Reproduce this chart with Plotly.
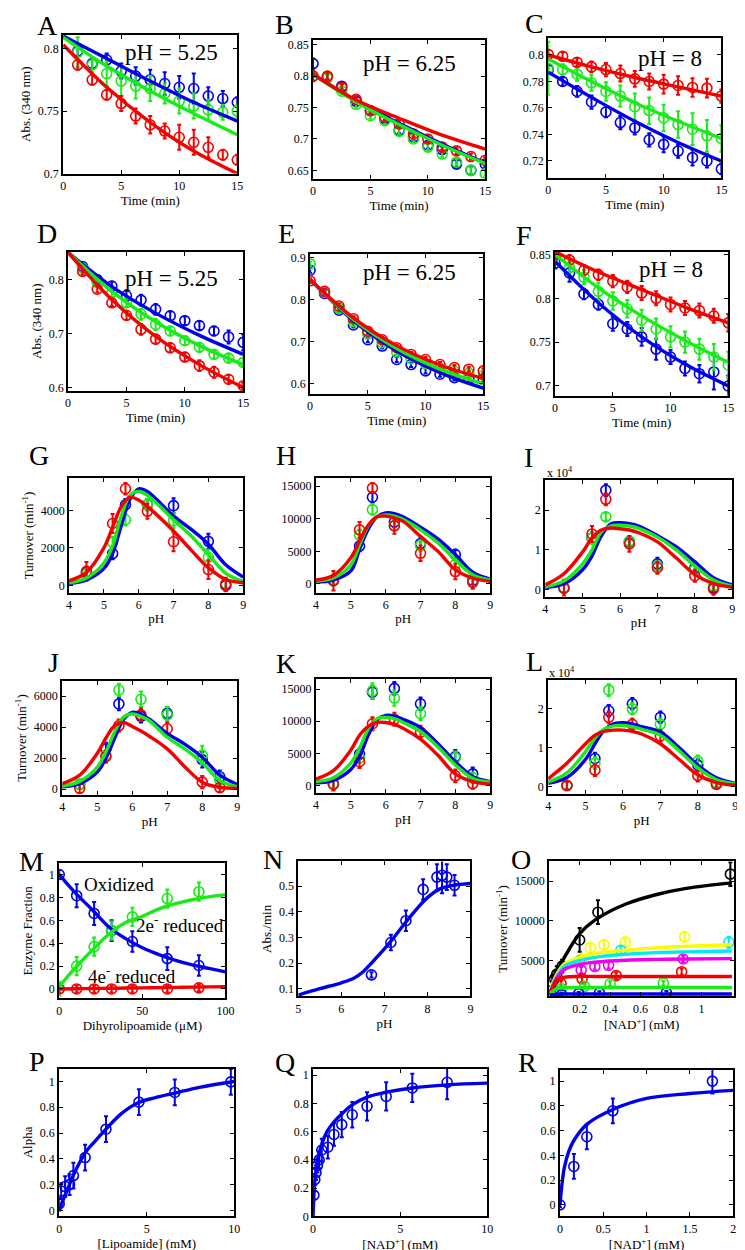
import plotly.graph_objects as go

W, H = 745, 1250
FONT = "Liberation Serif, Times New Roman, serif"
BLUE = "rgb(0,0,235)"
GREEN = "rgb(25,235,25)"
RED = "rgb(245,0,0)"

# ---------------- time-course panels (A-F) ----------------
T_ALL = [0, 1.25, 2.5, 3.75, 5, 6.25, 7.5, 8.75, 10, 11.25, 12.5, 13.75, 15]
T_LATE = [1.25, 2.5, 3.75, 5, 6.25, 7.5, 8.75, 10, 11.25, 12.5, 13.75, 15]
T_FIT = [0, 3.75, 7.5, 11.25, 15]

A_blue = [0.798, 0.788, 0.791, 0.782, 0.778, 0.775, 0.772, 0.769, 0.768, 0.762, 0.760, 0.757]
A_blue_err = [0.004, 0.004, 0.005, 0.006, 0.007, 0.008, 0.009, 0.009, 0.012, 0.007, 0.006, 0.004]
A_green = [0.797, 0.787, 0.780, 0.774, 0.770, 0.768, 0.764, 0.758, 0.754, 0.751, 0.749, 0.750]
A_green_err = [0.012, 0.006, 0.010, 0.012, 0.010, 0.010, 0.008, 0.010, 0.010, 0.008, 0.006, 0.005]
A_red = [0.787, 0.775, 0.763, 0.756, 0.746, 0.739, 0.734, 0.729, 0.725, 0.721, 0.715, 0.711]
A_red_err = [0.004, 0.004, 0.004, 0.006, 0.006, 0.007, 0.006, 0.010, 0.010, 0.008, 0.004, 0.004]
A_blue_fit = [0.810, 0.792, 0.774, 0.757, 0.742]
A_green_fit = [0.809, 0.786, 0.766, 0.748, 0.731]
A_red_fit = [0.803, 0.769, 0.741, 0.718, 0.700]

B_blue = [0.820, 0.799, 0.784, 0.760, 0.745, 0.732, 0.714, 0.703, 0.690, 0.683, 0.660, 0.650, 0.660]
B_blue_err = [0.008, 0.004, 0.004, 0.006, 0.005, 0.005, 0.005, 0.005, 0.005, 0.005, 0.006, 0.006, 0.005]
B_green = [0.800, 0.797, 0.776, 0.755, 0.737, 0.729, 0.712, 0.700, 0.687, 0.676, 0.663, 0.650, 0.645]
B_green_err = [0.006, 0.005, 0.005, 0.005, 0.005, 0.005, 0.005, 0.005, 0.005, 0.005, 0.005, 0.005, 0.005]
B_red = [0.800, 0.800, 0.782, 0.763, 0.745, 0.735, 0.724, 0.708, 0.700, 0.687, 0.681, 0.672, 0.666]
B_red_err = [0.008, 0.005, 0.005, 0.005, 0.005, 0.005, 0.005, 0.005, 0.005, 0.005, 0.005, 0.005, 0.005]
B_blue_fit = [0.803, 0.760, 0.725, 0.692, 0.662]
B_green_fit = [0.803, 0.759, 0.723, 0.690, 0.661]
B_red_fit = [0.803, 0.762, 0.733, 0.706, 0.684]

C_red = [0.8005, 0.799, 0.7945, 0.791, 0.789, 0.786, 0.782, 0.780, 0.778, 0.777, 0.7755, 0.775, 0.769]
C_red_err = [0.003, 0.003, 0.003, 0.004, 0.005, 0.006, 0.006, 0.006, 0.007, 0.007, 0.007, 0.007, 0.005]
C_green = [0.790, 0.789, 0.7855, 0.779, 0.7725, 0.769, 0.761, 0.758, 0.7525, 0.7475, 0.744, 0.739, 0.737]
C_green_err = [0.02, 0.004, 0.005, 0.006, 0.007, 0.008, 0.010, 0.010, 0.010, 0.010, 0.012, 0.012, 0.010]
C_blue = [0.789, 0.780, 0.7725, 0.7645, 0.757, 0.749, 0.745, 0.736, 0.7325, 0.7275, 0.7225, 0.720, 0.714]
C_blue_err = [0.003, 0.003, 0.004, 0.005, 0.004, 0.005, 0.005, 0.005, 0.006, 0.005, 0.006, 0.005, 0.004]
C_red_fit = [0.800, 0.791, 0.783, 0.776, 0.769]
C_green_fit = [0.797, 0.780, 0.764, 0.750, 0.737]
C_blue_fit = [0.787, 0.768, 0.750, 0.734, 0.720]

D_red = [0.815, 0.782, 0.757, 0.734, 0.708, 0.690, 0.674, 0.657, 0.641, 0.629, 0.616, 0.604]
D_red_err = [0.006, 0.006, 0.006, 0.008, 0.010, 0.008, 0.008, 0.008, 0.010, 0.010, 0.008, 0.006]
D_green = [0.821, 0.794, 0.776, 0.757, 0.736, 0.717, 0.705, 0.687, 0.675, 0.662, 0.655, 0.647]
D_green_err = [0.008, 0.008, 0.008, 0.008, 0.010, 0.010, 0.008, 0.008, 0.008, 0.008, 0.008, 0.008]
D_blue = [0.824, 0.800, 0.788, 0.770, 0.762, 0.745, 0.733, 0.724, 0.715, 0.705, 0.694, 0.684]
D_blue_err = [0.006, 0.006, 0.008, 0.010, 0.010, 0.010, 0.008, 0.008, 0.008, 0.008, 0.012, 0.015]
D_red_fit = [0.850, 0.763, 0.695, 0.643, 0.601]
D_green_fit = [0.850, 0.778, 0.722, 0.678, 0.643]
D_blue_fit = [0.850, 0.787, 0.738, 0.697, 0.662]

E_blue = [0.870, 0.815, 0.775, 0.740, 0.705, 0.690, 0.658, 0.646, 0.631, 0.623, 0.615, 0.612, 0.611]
E_green = [0.885, 0.818, 0.780, 0.748, 0.718, 0.698, 0.676, 0.660, 0.648, 0.638, 0.630, 0.625, 0.620]
E_red = [0.845, 0.820, 0.785, 0.755, 0.725, 0.705, 0.686, 0.670, 0.658, 0.646, 0.639, 0.635, 0.631]
E_err = [0.006, 0.006, 0.006, 0.006, 0.006, 0.006, 0.006, 0.006, 0.006, 0.006, 0.006, 0.006, 0.006]
E_red_fit = [0.848, 0.757, 0.691, 0.645, 0.613]
E_green_fit = [0.848, 0.753, 0.684, 0.635, 0.600]
E_blue_fit = [0.848, 0.750, 0.678, 0.627, 0.590]

F_red = [0.850, 0.8435, 0.832, 0.827, 0.8195, 0.813, 0.806, 0.800, 0.793, 0.789, 0.786, 0.780, 0.772]
F_red_err = [0.004, 0.006, 0.006, 0.006, 0.007, 0.007, 0.008, 0.008, 0.008, 0.008, 0.008, 0.008, 0.010]
F_green = [0.848, 0.835, 0.824, 0.808, 0.797, 0.788, 0.775, 0.765, 0.756, 0.750, 0.742, 0.733, 0.724]
F_green_err = [0.006, 0.008, 0.008, 0.010, 0.010, 0.010, 0.012, 0.012, 0.012, 0.012, 0.012, 0.015, 0.015]
F_blue = [0.840, 0.829, 0.805, 0.793, 0.771, 0.765, 0.756, 0.742, 0.733, 0.720, 0.714, 0.716, 0.700]
F_blue_err = [0.006, 0.010, 0.006, 0.006, 0.008, 0.008, 0.010, 0.012, 0.008, 0.008, 0.010, 0.020, 0.012]
F_red_fit = [0.853, 0.830, 0.810, 0.790, 0.772]
F_green_fit = [0.850, 0.812, 0.780, 0.752, 0.727]
F_blue_fit = [0.842, 0.795, 0.756, 0.725, 0.700]

# ---------------- pH profiles (G-L) ----------------
PH_PTS = [4.5, 5.25, 5.62, 6.25, 7, 8, 8.5]
PH_FIT = [4, 4.5, 5, 5.25, 5.5, 5.75, 6, 6.25, 6.5, 7, 7.5, 8, 8.5, 9]

G_red = [750, 3300, 5150, 3950, 2330, 850, 60]
G_red_err = [500, 500, 300, 400, 500, 500, 350]
G_blue = [700, 1700, 4300, 4300, 4250, 2350, 0]
G_blue_err = [300, 300, 300, 300, 400, 400, 300]
G_green = [600, 2300, 3500, 4300, 3450, 1500, 100]
G_green_err = [300, 300, 300, 300, 400, 400, 200]
G_blue_fit = [100, 300, 900, 1700, 3200, 4600, 5150, 5000, 4600, 3700, 3000, 2200, 1100, 450]
G_green_fit = [150, 400, 1200, 2100, 3700, 4800, 5000, 4800, 4400, 3500, 2650, 1650, 650, 220]
G_red_fit = [250, 700, 2000, 3100, 4200, 4700, 4550, 4200, 3800, 2900, 1900, 950, 320, 150]

H_red = [500, 8300, 14700, 8900, 4700, 1900, 250]
H_red_err = [1500, 1200, 800, 1200, 1200, 1200, 1000]
H_blue = [600, 5800, 13300, 9500, 6200, 4500, 500]
H_blue_err = [800, 800, 800, 800, 800, 800, 600]
H_green = [500, 7500, 11400, 9000, 5900, 3000, 300]
H_green_err = [800, 800, 800, 800, 800, 800, 600]
H_blue_fit = [300, 600, 2000, 5300, 8400, 10300, 10900, 10800, 10300, 8700, 6900, 4500, 1800, 750]
H_green_fit = [400, 900, 2900, 6000, 8900, 10300, 10600, 10400, 9900, 8300, 6300, 3700, 1400, 600]
H_red_fit = [600, 1300, 4000, 6600, 9000, 10300, 10400, 10100, 9600, 7300, 5000, 2200, 900, 400]

I_red = [500, 14000, 22700, 11500, 5500, 3500, 200]
I_red_err = [2000, 2000, 1500, 2000, 1500, 1500, 1500]
I_blue = [300, 13000, 25000, 12000, 6500, 5500, 500]
I_blue_err = [1000, 1500, 1500, 1000, 1500, 1500, 1000]
I_green = [400, 13000, 18300, 12200, 6000, 5000, 1000]
I_green_err = [1000, 1500, 1000, 1000, 1000, 1000, 1000]
I_blue_fit = [500, 1500, 5000, 8500, 13500, 16500, 16800, 16600, 16000, 13600, 10800, 7000, 3000, 1200]
I_green_fit = [700, 2200, 6500, 10000, 14500, 16000, 16200, 16000, 15400, 13200, 10000, 6000, 2400, 900]
I_red_fit = [1200, 4000, 9500, 13000, 15000, 15500, 15300, 15000, 14300, 12000, 8000, 3800, 1500, 600]

J_green = [300, 2200, 6400, 5800, 4800, 2200, 600]
J_green_err = [300, 300, 400, 500, 500, 600, 400]
J_blue = [300, 2600, 5500, 4700, 4900, 1900, 800]
J_blue_err = [300, 400, 400, 400, 400, 500, 400]
J_red = [50, 2100, 4100, 4800, 3900, 450, 100]
J_red_err = [300, 400, 400, 400, 400, 400, 300]
J_blue_fit = [150, 350, 1100, 2000, 3300, 4500, 4950, 4850, 4500, 3600, 2900, 2050, 900, 300]
J_green_fit = [200, 500, 1400, 2400, 3700, 4650, 4850, 4700, 4400, 3350, 2600, 1700, 550, 150]
J_red_fit = [350, 900, 2300, 3300, 4100, 4300, 4050, 3750, 3400, 2600, 1450, 450, 120, 50]

K_green = [300, 4300, 14700, 13600, 11200, 4300, 1200]
K_green_err = [800, 800, 1200, 1200, 1000, 1000, 800]
K_blue = [200, 4900, 14500, 15100, 12700, 4500, 1800]
K_blue_err = [800, 800, 1000, 1000, 1000, 1000, 1000]
K_red = [200, 3700, 9600, 10300, 8300, 1500, 300]
K_red_err = [1000, 1000, 1000, 1000, 1000, 1000, 800]
K_blue_fit = [400, 800, 2500, 4500, 7800, 10200, 10900, 10800, 10300, 9000, 6500, 3700, 1400, 600]
K_green_fit = [600, 1200, 3500, 5800, 8800, 10400, 10600, 10400, 9800, 8400, 6000, 3200, 1100, 500]
K_red_fit = [1000, 2300, 5500, 7800, 9200, 9800, 9800, 9500, 8900, 7200, 4700, 1800, 600, 200]

L_green = [300, 6000, 24800, 20000, 16000, 6500, 1000]
L_green_err = [1000, 1500, 1500, 1500, 1500, 1500, 1000]
L_blue = [300, 7200, 19500, 21300, 17800, 5500, 800]
L_blue_err = [1000, 1500, 1500, 1500, 1500, 1500, 1000]
L_red = [200, 4200, 17800, 16000, 13000, 2800, 500]
L_red_err = [1000, 1500, 1500, 1500, 1500, 1500, 1000]
L_blue_fit = [800, 2300, 7000, 11000, 14500, 16100, 16400, 16100, 15400, 14000, 10000, 5500, 2200, 800]
L_green_fit = [1200, 3500, 9000, 12500, 14800, 15600, 15700, 15400, 14700, 13200, 9200, 4800, 1800, 700]
L_red_fit = [2000, 6000, 11000, 13200, 14200, 14500, 14500, 14200, 13500, 11000, 7000, 3000, 1000, 300]

# ---------------- M: enzyme fraction ----------------
M_x = [0, 10.5, 21, 31.5, 44, 65, 84]
M_ox = [1.0, 0.815, 0.66, 0.51, 0.415, 0.265, 0.205]
M_ox_err = [0.04, 0.10, 0.10, 0.09, 0.09, 0.10, 0.09]
M_2e = [0.0, 0.20, 0.37, 0.51, 0.63, 0.79, 0.85]
M_2e_err = [0.06, 0.08, 0.08, 0.08, 0.08, 0.08, 0.08]
M_4e = [0.0, 0.0, 0.0, 0.0, 0.0, 0.0, 0.01]
M_4e_err = [0.03, 0.03, 0.03, 0.03, 0.03, 0.03, 0.03]
M_fit_x = [0, 10, 20, 30, 40, 50, 60, 70, 80, 90, 100]
M_ox_fit = [1.0, 0.835, 0.69, 0.54, 0.44, 0.36, 0.30, 0.25, 0.21, 0.18, 0.15]
M_2e_fit = [0.02, 0.19, 0.34, 0.48, 0.58, 0.635, 0.70, 0.745, 0.78, 0.805, 0.825]
M_4e_fit = [0.0, 0.002, 0.004, 0.006, 0.008, 0.01, 0.012, 0.014, 0.016, 0.018, 0.02]

# ---------------- N: activity vs pH ----------------
N_ph = [6.7, 7.15, 7.5, 7.9, 8.22, 8.34, 8.45, 8.63]
N_rate = [0.154, 0.28, 0.365, 0.487, 0.535, 0.542, 0.535, 0.503]
N_err = [0.01, 0.03, 0.04, 0.04, 0.05, 0.07, 0.05, 0.04]
N_fit_ph = [5, 5.5, 6, 6.3, 6.5, 6.7, 7, 7.2, 7.5, 7.8, 8, 8.3, 8.6, 9]
N_fit = [0.075, 0.10, 0.123, 0.142, 0.165, 0.20, 0.255, 0.295, 0.36, 0.42, 0.455, 0.49, 0.503, 0.51]

# ---------------- O: turnover vs NAD+ ----------------
O_black_x = [0.02, 0.035, 0.05, 0.085, 0.2, 0.32, 1.19]
O_black = [2300, 2700, 3300, 4300, 7600, 11100, 15900]
O_black_err = [800, 1000, 1000, 800, 1500, 1500, 1500]
O_yellow_x = [0.21, 0.27, 0.36, 0.5, 0.89]
O_yellow = [5200, 6600, 7000, 7300, 8000]
O_yellow_err = [600, 600, 600, 600, 600]
O_cyan_x = [0.2, 0.47, 1.18]
O_cyan = [5000, 6300, 7300]
O_cyan_err = [500, 500, 700]
O_magenta_x = [0.21, 0.3, 0.39, 0.88]
O_magenta = [3800, 4250, 4400, 5200]
O_magenta_err = [400, 400, 400, 400]
O_red_x = [0.078, 0.216, 0.44, 0.87]
O_red = [2100, 2700, 3100, 3600]
O_red_err = [400, 400, 400, 400]
O_green_x = [0.08, 0.233, 0.4, 0.75]
O_green = [1460, 1750, 2080, 2170]
O_green_err = [300, 300, 300, 300]
O_blue_x = [0.017, 0.082, 0.194, 0.33, 0.77]
O_blue = [620, 700, 830, 920, 960]
O_blue_err = [200, 200, 200, 200, 200]
O_fit_x = [0.005, 0.02, 0.05, 0.1, 0.2, 0.3, 0.5, 0.7, 0.9, 1.2]
O_black_fit = [600, 1800, 3500, 5400, 8400, 10100, 12100, 13300, 14100, 14800]
O_yellow_fit = [1200, 2000, 3300, 4600, 5400, 5900, 6300, 6600, 6800, 7000]
O_cyan_fit = [1100, 1800, 3000, 4300, 5000, 5400, 5800, 6000, 6100, 6200]
O_magenta_fit = [1000, 1600, 2800, 3900, 4500, 4800, 5050, 5150, 5200, 5250]
O_red_fit = [900, 1500, 2600, 2900, 3000, 3000, 3000, 3000, 3000, 3000]
O_green_fit = [800, 1100, 1450, 1580, 1600, 1600, 1600, 1600, 1600, 1600]
O_blue_fit = [650, 700, 760, 780, 790, 790, 790, 790, 790, 790]

# ---------------- P, Q, R: alpha ----------------
P_x = [0.0, 0.11, 0.34, 0.59, 0.81, 1.48, 2.67, 4.55, 6.6, 9.8]
P_y = [0.05, 0.15, 0.185, 0.20, 0.27, 0.41, 0.63, 0.84, 0.915, 0.997]
P_err = [0.05, 0.06, 0.08, 0.08, 0.10, 0.10, 0.10, 0.10, 0.10, 0.10]
P_fit_x = [0, 0.25, 0.5, 0.8, 1.5, 2, 2.67, 3.5, 4.5, 5.5, 6.6, 8, 10]
P_fit = [0, 0.09, 0.17, 0.27, 0.45, 0.53, 0.63, 0.745, 0.835, 0.875, 0.91, 0.955, 1.0]

Q_x = [0.05, 0.1, 0.17, 0.25, 0.35, 0.5, 0.85, 1.2, 1.65, 2.25, 3.1, 4.2, 5.7, 7.7]
Q_y = [0.15, 0.26, 0.31, 0.36, 0.40, 0.47, 0.49, 0.58, 0.65, 0.72, 0.78, 0.85, 0.91, 0.95]
Q_err = [0.03, 0.04, 0.05, 0.05, 0.06, 0.08, 0.08, 0.08, 0.09, 0.09, 0.10, 0.10, 0.10, 0.12]
Q_fit_x = [0, 0.03, 0.1, 0.2, 0.47, 0.8, 1.18, 1.6, 2.25, 3.1, 4.2, 5.7, 7.7, 10]
Q_fit = [0, 0.10, 0.25, 0.35, 0.50, 0.60, 0.667, 0.72, 0.79, 0.845, 0.88, 0.91, 0.932, 0.944]

R_x = [0, 0.16, 0.31, 0.61, 1.76]
R_y = [0, 0.31, 0.55, 0.76, 1.0]
R_err = [0.02, 0.10, 0.10, 0.10, 0.10]
R_fit_x = [0, 0.02, 0.05, 0.1, 0.16, 0.31, 0.61, 1, 1.5, 2]
R_fit = [0, 0.15, 0.30, 0.43, 0.52, 0.65, 0.77, 0.86, 0.90, 0.925]

# ---------------- tick labels ----------------
T_TICKS = [0, 5, 10, 15]
PH_TICKS = [4, 5, 6, 7, 8, 9]

fig = go.Figure()


def names(k):
    s = "" if k == 1 else str(k)
    return "x" + s, "y" + s, "xaxis" + s, "yaxis" + s


def errs(k, x, y, e, color):
    xs, ys, _, _ = names(k)
    fig.add_trace(go.Scatter(
        x=x, y=y, xaxis=xs, yaxis=ys, mode="markers",
        marker=dict(symbol="circle-open", size=10, color=color, line=dict(width=1.6, color=color)),
        error_y=dict(type="data", array=e, visible=True, color=color, thickness=2, width=2),
        showlegend=False, hoverinfo="skip"))


def fit(k, x, y, color, width=3.4):
    xs, ys, _, _ = names(k)
    fig.add_trace(go.Scatter(
        x=x, y=y, xaxis=xs, yaxis=ys, mode="lines",
        line=dict(color=color, width=width, shape="spline", smoothing=1.0),
        showlegend=False, hoverinfo="skip"))


def fmt(v):
    return "%g" % v


def axis_title(text, standoff):
    if not text:
        return None
    return dict(text=text, font=dict(family=FONT, size=13, color="black"), standoff=standoff)


def setup(k, box, xr, yr, xt, yt, xtitle="", ytitle="", xtt=None, ytt=None):
    l, r, t, b = box
    xs, ys, xa, ya = names(k)
    common = dict(showline=True, linewidth=2, linecolor="black", mirror="ticks",
                  ticks="inside", ticklen=4, tickwidth=1.2, tickcolor="black",
                  showgrid=False, zeroline=False,
                  tickfont=dict(family=FONT, size=12, color="black"))
    xd = dict(domain=[l / W, r / W], range=xr, anchor=ys, tickmode="array", tickvals=xt,
              ticktext=xtt if xtt else [fmt(v) for v in xt], **common)
    yd = dict(domain=[1 - b / H, 1 - t / H], range=yr, anchor=xs, tickmode="array", tickvals=yt,
              ticktext=ytt if ytt else [fmt(v) for v in yt], **common)
    xt_ = axis_title(xtitle, 3)
    yt_ = axis_title(ytitle, 4)
    if xt_:
        xd["title"] = xt_
    if yt_:
        yd["title"] = yt_
    fig.update_layout(**{xa: xd, ya: yd})


TURN = "Turnover (min<sup>-1</sup>)"
NADT = "[NAD<sup>+</sup>] (mM)"

# A
setup(1, (53, 230, 23, 163), [0, 15], [0.7, 0.811], T_TICKS, [0.7, 0.75, 0.8], "Time (min)", "Abs. (340 nm)")
for x, y, e, c in [(T_LATE, A_blue, A_blue_err, BLUE), (T_LATE, A_green, A_green_err, GREEN), (T_LATE, A_red, A_red_err, RED)]:
    errs(1, x, y, e, c)
for y, c in [(A_blue_fit, BLUE), (A_green_fit, GREEN), (A_red_fit, RED)]:
    fit(1, T_FIT, y, c)
# B
setup(2, (307, 482, 28, 168), [0, 15], [0.637, 0.858], T_TICKS, [0.65, 0.7, 0.75, 0.8, 0.85], "Time (min)")
for y, e, c in [(B_blue, B_blue_err, BLUE), (B_green, B_green_err, GREEN), (B_red, B_red_err, RED)]:
    errs(2, T_ALL, y, e, c)
for y, c in [(B_blue_fit, BLUE), (B_green_fit, GREEN), (B_red_fit, RED)]:
    fit(2, T_FIT, y, c)
# C
setup(3, (546, 722, 26, 167), [0, 15], [0.7075, 0.813], T_TICKS, [0.72, 0.74, 0.76, 0.78, 0.8], "Time (min)")
for y, e, c in [(C_blue, C_blue_err, BLUE), (C_green, C_green_err, GREEN), (C_red, C_red_err, RED)]:
    errs(3, T_ALL, y, e, c)
for y, c in [(C_blue_fit, BLUE), (C_green_fit, GREEN), (C_red_fit, RED)]:
    fit(3, T_FIT, y, c)
# D
setup(4, (58, 236, 242, 382), [0, 15], [0.595, 0.851], T_TICKS, [0.6, 0.7, 0.8], "Time (min)", "Abs. (340 nm)")
for y, e, c in [(D_blue, D_blue_err, BLUE), (D_green, D_green_err, GREEN), (D_red, D_red_err, RED)]:
    errs(4, T_LATE, y, e, c)
for y, c in [(D_blue_fit, BLUE), (D_green_fit, GREEN), (D_red_fit, RED)]:
    fit(4, T_FIT, y, c)
# E
setup(5, (304, 480, 244, 385), [0, 15], [0.577, 0.909], T_TICKS, [0.6, 0.7, 0.8, 0.9], "Time (min)")
for y, c in [(E_blue, BLUE), (E_green, GREEN), (E_red, RED)]:
    errs(5, T_ALL, y, E_err, c)
for y, c in [(E_blue_fit, BLUE), (E_green_fit, GREEN), (E_red_fit, RED)]:
    fit(5, T_FIT, y, c)
# F
setup(6, (553, 729, 242, 387), [0, 15], [0.689, 0.853], T_TICKS, [0.7, 0.75, 0.8, 0.85], "Time (min)")
for y, e, c in [(F_blue, F_blue_err, BLUE), (F_green, F_green_err, GREEN), (F_red, F_red_err, RED)]:
    errs(6, T_ALL, y, e, c)
for y, c in [(F_blue_fit, BLUE), (F_green_fit, GREEN), (F_red_fit, RED)]:
    fit(6, T_FIT, y, c)

# G-L
PH_PANELS = [
    (7, (59, 236, 470, 586), [-390, 5730], [0, 2000, 4000], None, TURN,
     (G_blue, G_blue_err, G_blue_fit), (G_green, G_green_err, G_green_fit), (G_red, G_red_err, G_red_fit)),
    (8, (310, 487, 470, 586), [-1370, 16275], [0, 5000, 10000, 15000], None, "",
     (H_blue, H_blue_err, H_blue_fit), (H_green, H_green_err, H_green_fit), (H_red, H_red_err, H_red_fit)),
    (9, (543, 733, 472, 590), [-1800, 27600], [0, 10000, 20000], ["0", "1", "2"], "",
     (I_blue, I_blue_err, I_blue_fit), (I_green, I_green_err, I_green_fit), (I_red, I_red_err, I_red_fit)),
    (10, (52, 230, 675, 790), [-384, 6980], [0, 2000, 4000, 6000], None, TURN,
     (J_blue, J_blue_err, J_blue_fit), (J_green, J_green_err, J_green_fit), (J_red, J_red_err, J_red_fit)),
    (11, (310, 487, 673, 788), [-1180, 16550], [0, 5000, 10000, 15000], None, "",
     (K_blue, K_blue_err, K_blue_fit), (K_green, K_green_err, K_green_fit), (K_red, K_red_err, K_red_fit)),
    (12, (546, 736, 674, 789), [-1960, 27400], [0, 10000, 20000], ["0", "1", "2"], "",
     (L_blue, L_blue_err, L_blue_fit), (L_green, L_green_err, L_green_fit), (L_red, L_red_err, L_red_fit)),
]
for k, box, yr, yt, ytt, ytitle, sb, sg, sr in PH_PANELS:
    setup(k, box, [4, 9], yr, PH_TICKS, yt, "pH", ytitle, ytt=ytt)
    for (y, e, _), c in [(sb, BLUE), (sg, GREEN), (sr, RED)]:
        errs(k, PH_PTS, y, e, c)
    for (_, _, f), c in [(sb, BLUE), (sg, GREEN), (sr, RED)]:
        fit(k, PH_FIT, f, c)

# M
setup(13, (49, 218, 859, 995), [0, 100], [-0.081, 1.097], [0, 50, 100], [0, 0.2, 0.4, 0.6, 0.8, 1],
      "Dihyrolipoamide (\u03bcM)", "Enzyme Fraction")
for y, e, c in [(M_ox, M_ox_err, BLUE), (M_2e, M_2e_err, GREEN), (M_4e, M_4e_err, RED)]:
    errs(13, M_x, y, e, c)
for y, c in [(M_ox_fit, BLUE), (M_2e_fit, GREEN), (M_4e_fit, RED)]:
    fit(13, M_fit_x, y, c)
# N
setup(14, (292, 467, 857, 993), [5, 9], [0.0705, 0.596], [5, 6, 7, 8, 9], [0.1, 0.2, 0.3, 0.4, 0.5], "pH", "Abs./min")
errs(14, N_ph, N_rate, N_err, BLUE)
fit(14, N_fit_ph, N_fit, BLUE)
# O
setup(15, (547, 735, 857, 993), [0, 1.215], [500, 17500], [0.2, 0.4, 0.6, 0.8, 1], [5000, 10000, 15000], NADT, TURN)
O_SERIES = [
    (O_black_x, O_black, O_black_err, O_black_fit, "black"),
    (O_yellow_x, O_yellow, O_yellow_err, O_yellow_fit, "rgb(250,250,0)"),
    (O_cyan_x, O_cyan, O_cyan_err, O_cyan_fit, "rgb(0,235,235)"),
    (O_magenta_x, O_magenta, O_magenta_err, O_magenta_fit, "rgb(240,0,240)"),
    (O_red_x, O_red, O_red_err, O_red_fit, RED),
    (O_green_x, O_green, O_green_err, O_green_fit, GREEN),
    (O_blue_x, O_blue, O_blue_err, O_blue_fit, BLUE),
]
for x, y, e, f, c in O_SERIES:
    errs(15, x, y, e, c)
for x, y, e, f, c in O_SERIES:
    fit(15, O_fit_x, f, c)
# P
setup(16, (49, 227, 1066, 1215), [0, 10], [-0.046, 1.1], [0, 5, 10], [0, 0.2, 0.4, 0.6, 0.8, 1], "[Lipoamide] (mM)", "Alpha")
errs(16, P_x, P_y, P_err, BLUE)
fit(16, P_fit_x, P_fit, BLUE)
# Q
setup(17, (307, 484, 1066, 1215), [0, 10], [0, 1.047], [0, 5, 10], [0, 0.2, 0.4, 0.6, 0.8, 1], NADT)
errs(17, Q_x, Q_y, Q_err, BLUE)
fit(17, Q_fit_x, Q_fit, BLUE)
# R
setup(18, (558, 734, 1067, 1215), [0, 2], [-0.093, 1.093], [0, 0.5, 1, 1.5, 2], [0, 0.2, 0.4, 0.6, 0.8, 1], NADT)
errs(18, R_x, R_y, R_err, BLUE)
fit(18, R_fit_x, R_fit, BLUE)

# ---------------- annotations ----------------
ann = []
LETTERS = [("A", 37, 14), ("B", 278, 13), ("C", 532, 12), ("D", 37, 223), ("E", 280, 223), ("F", 521, 225),
           ("G", 28, 447), ("H", 279, 447), ("I", 526, 449), ("J", 43, 656), ("K", 280, 657), ("L", 532, 655),
           ("M", 21, 857), ("N", 266, 855), ("O", 518, 855), ("P", 26, 1059), ("Q", 278, 1060), ("R", 525, 1060)]
for s, px, py in LETTERS:
    ann.append(dict(text=s, x=px / W, y=1 - py / H, xref="paper", yref="paper", showarrow=False,
                    xanchor="center", yanchor="middle", font=dict(family=FONT, size=28, color="black")))
PH_LABELS = [("pH = 5.25", 163, 41), ("pH = 6.25", 405, 52), ("pH = 8", 670, 47),
             ("pH = 5.25", 163, 269), ("pH = 6.25", 405, 263), ("pH = 8", 671, 260)]
for s, px, py in PH_LABELS:
    ann.append(dict(text=s, x=px / W, y=1 - py / H, xref="paper", yref="paper", showarrow=False,
                    xanchor="center", yanchor="middle", font=dict(family=FONT, size=23, color="black")))
for px, py in [(558, 465), (560, 666)]:
    ann.append(dict(text="x 10<sup>4</sup>", x=px / W, y=1 - py / H, xref="paper", yref="paper", showarrow=False,
                    xanchor="center", yanchor="middle", font=dict(family=FONT, size=12, color="black")))
for s, x, y in [("Oxidized", 14, 0.913), ("2e<sup>-</sup> reduced", 45, 0.57), ("4e<sup>-</sup> reduced", 16, 0.12)]:
    ann.append(dict(text=s, x=x, y=y, xref="x13", yref="y13", showarrow=False, xanchor="left",
                    yanchor="middle", font=dict(family=FONT, size=19, color="black")))

fig.update_layout(width=W, height=H, margin=dict(l=0, r=0, t=0, b=0), paper_bgcolor="white",
                  plot_bgcolor="white", showlegend=False, annotations=ann,
                  font=dict(family=FONT, color="black"))

fig.write_html("out.html")
